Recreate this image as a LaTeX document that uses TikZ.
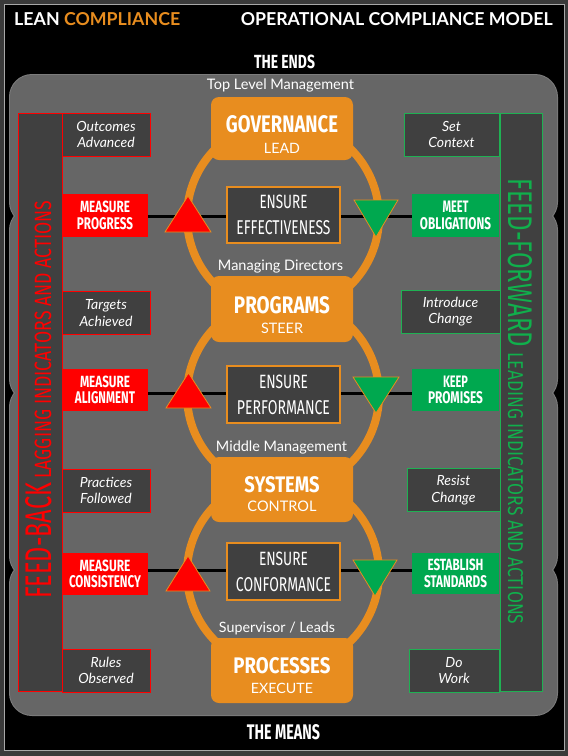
\documentclass[tikz,border=0pt]{standalone}
\usepackage{fontspec}
\usepackage{graphicx}
\setmainfont{Lato}
\newfontfamily\cf[FakeStretch=0.72]{Fira Sans}
\newcommand\fwh[3]{\resizebox{#1pt}{#2pt}{#3}}
\newcommand\fw[2]{\resizebox{#1pt}{!}{#2}}
\definecolor{bgout}{HTML}{3A3A3A}
\definecolor{frameC}{HTML}{A8A8A8}
\definecolor{panelC}{HTML}{666666}
\definecolor{panelE}{HTML}{7C7C7C}
\definecolor{darkC}{HTML}{404040}
\definecolor{orangeC}{HTML}{E88D1F}
\definecolor{redC}{HTML}{FF0000}
\definecolor{greenC}{HTML}{00A84F}
\definecolor{greenE}{HTML}{1FB153}
\definecolor{greenT}{HTML}{10B04C}
\pgfdeclarelayer{back}
\pgfdeclarelayer{mid}
\pgfsetlayers{back,mid,main}
\tikzset{
 lbl/.style={inner sep=0pt, anchor=base, text=white},
 obox/.style={fill=orangeC, rounded corners=8pt, minimum width=142pt, inner sep=0pt},
 ebox/.style={fill=darkC, draw=orangeC, line width=2pt, minimum width=113pt, inner sep=0pt, align=center, text=white, font=\cf\fontsize{13}{26}\selectfont},
 mbox/.style={fill=redC, minimum width=86pt, minimum height=42pt, inner sep=0pt, align=center, text=white, font=\cf\bfseries\fontsize{12}{16.5}\selectfont},
 gbox/.style={fill=greenC, minimum width=87pt, minimum height=42pt, inner sep=0pt, align=center, text=white, font=\cf\bfseries\fontsize{12}{16.5}\selectfont},
 lbox/.style={fill=darkC, draw=redC, line width=1pt, minimum width=88pt, minimum height=43pt, inner sep=0pt, align=center, text=white, font=\itshape\fontsize{14}{16.5}\selectfont},
 rbox/.style={fill=darkC, draw=greenE, line width=1pt, minimum height=43pt, inner sep=0pt, align=center, text=white, font=\itshape\fontsize{14}{16.5}\selectfont},
 ring/.style={draw=orangeC, line width=8pt},
 conn/.style={draw=black, line width=3pt},
 redtri/.style={fill=redC, draw=orangeC, line width=0.8pt},
 gtri/.style={fill=greenC, draw=orangeC, line width=0.8pt},
 bar/.style={fill=darkC, line width=1pt, inner sep=0pt, minimum width=44pt, minimum height=578pt},
 panelline/.style={draw=panelE, line width=2pt, rounded corners=22pt},
 panelfill/.style={fill=panelC, rounded corners=22pt},
}
\begin{document}
\begin{tikzpicture}[x=1pt,y=-1pt]
\useasboundingbox (0,0) rectangle (568,756);
\begin{pgfonlayer}{back}
 \fill[bgout] (0,0) rectangle (568,756);
 \draw[fill=black, draw=frameC, line width=1pt] (4,4) rectangle (564,750);
 \foreach \a/\b in {75/224, 208/401, 385/578, 562/715}
   \draw[panelline] (10,\a) rectangle (557,\b);
 \foreach \a/\b in {75/224, 208/401, 385/578, 562/715}
   \fill[panelfill] (10,\a) rectangle (557,\b);
 \draw[ring] (283,217) circle[radius=96];
 \draw[ring] (283,395) circle[radius=96];
 \draw[ring] (283,573) circle[radius=96];
\end{pgfonlayer}

% titles
\node[lbl, anchor=base west] (t1) at (14,25) {\fwh{166}{13}{\bfseries LEAN \textcolor{orangeC}{COMPLIANCE}}};
\node[lbl, anchor=base east] (t2) at (553,25) {\fwh{312}{13}{\bfseries OPERATIONAL COMPLIANCE MODEL}};
\node[lbl] (ends) at (284.5,68) {\fwh{61}{13.5}{\cf\bfseries THE ENDS}};
\node[lbl] (means) at (283.5,739) {\fwh{73}{15}{\cf\bfseries THE MEANS}};

% side bars
\node[bar, draw=redC] (lb) at (40,402) {};
\node[bar, draw=greenE, minimum width=42pt] (rb) at (521,402) {};
\node[inner sep=0pt, anchor=base west, rotate=90, text=redC, font=\cf] (lbt) at (51,599)
  {\fwh{116}{26}{FEED-BACK}\hspace{4pt}\fwh{278}{16.5}{LAGGING INDICATORS AND ACTIONS}};
\node[inner sep=0pt, anchor=base west, rotate=-90, text=greenT, font=\cf] (rbt) at (508,178)
  {\fwh{169}{24}{FEED-FORWARD}\hspace{5pt}\fwh{272}{15}{LEADING INDICATORS AND ACTIONS}};

% italic boxes left
\node[lbox] (oa) at (106,134.5) {Outcomes\\Advanced};
\node[lbox] (ta) at (106,313) {Targets\\Achieved};
\node[lbox] (pf) at (106,490.5) {Practices\\Followed};
\node[lbox] (ro) at (106,670.5) {Rules\\Observed};
% italic boxes right
\node[rbox, minimum width=95pt] (sc) at (451.5,134.5) {Set\\Context};
\node[rbox, minimum width=99pt] (ic) at (450.5,311.5) {Introduce\\Change};
\node[rbox, minimum width=93pt] (rc) at (453.5,490) {Resist\\Change};
\node[rbox, minimum width=90pt] (dw) at (454,670.5) {Do\\Work};

% measure boxes
\node[mbox, minimum height=43pt] (m1) at (105,215.5) {\fwh{50}{11.5}{MEASURE}\\\fwh{56}{12}{PROGRESS}};
\node[mbox] (m2) at (105,390) {\fwh{50}{11.5}{MEASURE}\\\fwh{60}{12}{ALIGNMENT}};
\node[mbox] (m3) at (105,574) {\fwh{51}{11.5}{MEASURE}\\\fwh{72}{12}{CONSISTENCY}};
% green boxes
\node[gbox, minimum height=43pt] (g1) at (455.5,215.5) {\fwh{26}{11.5}{MEET}\\\fwh{71}{12}{OBLIGATIONS}};
\node[gbox] (g2) at (455.5,390) {\fwh{25}{11.5}{KEEP}\\\fwh{55}{12}{PROMISES}};
\node[gbox, minimum height=41pt] (g3) at (455.5,573.5) {\fwh{56}{11.5}{ESTABLISH}\\\fwh{63}{12}{STANDARDS}};

% connectors
\coordinate (l1) at (0,216);
\coordinate (l2) at (0,393);
\coordinate (l3) at (0,570);
\begin{pgfonlayer}{mid}
 \draw[conn] (m1.east |- l1) -- (g1.west |- l1);
 \draw[conn] (m2.east |- l2) -- (g2.west |- l2);
 \draw[conn] (m3.east |- l3) -- (g3.west |- l3);
\end{pgfonlayer}

% triangles
\draw[redtri] (165,232) -- (188,196) -- (211,232) -- cycle;
\draw[redtri] (166,408) -- (188.5,373) -- (211,408) -- cycle;
\draw[redtri] (166,591) -- (188,556) -- (210,591) -- cycle;
\draw[gtri] (354,200) -- (398,200) -- (376,237) -- cycle;
\draw[gtri] (353,377) -- (399,377) -- (376,413) -- cycle;
\draw[gtri] (353,560) -- (397,560) -- (375,596) -- cycle;

% ensure boxes
\node[ebox, minimum height=56pt] (e1) at (283.5,215) {\fwh{48}{13.5}{ENSURE}\\\fwh{94}{14}{EFFECTIVENESS}};
\node[ebox, minimum height=57pt] (e2) at (283.5,394.5) {\fwh{49}{13.5}{ENSURE}\\\fwh{93}{14}{PERFORMANCE}};
\node[ebox, minimum height=57pt] (e3) at (283.5,571.5) {\fwh{49}{13.5}{ENSURE}\\\fwh{95}{14}{CONFORMANCE}};

% level labels
\node[lbl] (tlm) at (280.5,89) {\fw{147}{Top Level Management}};
\node[lbl] (mdir) at (280.5,270) {\fw{125}{Managing Directors}};
\node[lbl] (mmgt) at (281.5,451) {\fw{131}{Middle Management}};
\node[lbl] (supl) at (277,632) {\fw{116}{Supervisor / Leads}};

% orange boxes
\node[obox, minimum height=63pt] (gov) at (282,128.5) {};
\node[lbl] (govt) at (282,132) {\fwh{112}{17}{\cf\bfseries GOVERNANCE}};
\node[lbl] (govs) at (282,153) {\fw{36}{LEAD}};
\node[obox, minimum height=66pt] (prog) at (282,309) {};
\node[lbl] (progt) at (282,313) {\fwh{96}{17}{\cf\bfseries PROGRAMS}};
\node[lbl] (progs) at (282,333) {\fw{42}{STEER}};
\node[obox, minimum height=65pt] (sys) at (282,489.5) {};
\node[lbl] (syst) at (282,492) {\fwh{75}{16}{\cf\bfseries SYSTEMS}};
\node[lbl] (syss) at (282,511) {\fw{69}{CONTROL}};
\node[obox, minimum height=65pt] (proc) at (282,670.5) {};
\node[lbl] (proct) at (282,673) {\fwh{97}{16}{\cf\bfseries PROCESSES}};
\node[lbl] (procs) at (282,693) {\fw{62}{EXECUTE}};
\end{tikzpicture}
\end{document}
